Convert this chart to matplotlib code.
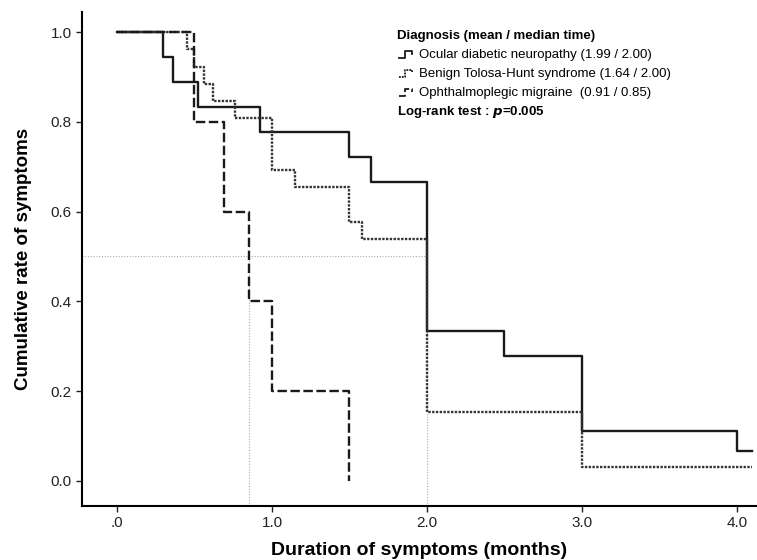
import matplotlib
matplotlib.use("Agg")
import matplotlib.pyplot as plt

plt.rcParams["font.family"] = ["Liberation Sans", "DejaVu Sans"]

# Kaplan-Meier style step data (time in months, cumulative rate)
t_ocular = [0, 0.30, 0.36, 0.52, 0.92, 1.50, 1.64, 2.00, 2.50, 3.00, 4.00, 4.10]
s_ocular = [1.0, 0.944, 0.889, 0.833, 0.778, 0.722, 0.667, 0.333, 0.278, 0.111, 0.067, 0.067]

t_tolosa = [0, 0.45, 0.50, 0.56, 0.62, 0.76, 1.00, 1.15, 1.50, 1.58, 2.00, 3.00, 4.10]
s_tolosa = [1.0, 0.962, 0.923, 0.885, 0.846, 0.808, 0.692, 0.654, 0.577, 0.538, 0.154, 0.03, 0.03]

t_migraine = [0, 0.50, 0.69, 0.85, 1.00, 1.50]
s_migraine = [1.0, 0.8, 0.6, 0.4, 0.2, 0.0]

medians = [0.85, 2.0]

labels = ["Ocular diabetic neuropathy (1.99 / 2.00)",
          "Benign Tolosa-Hunt syndrome (1.64 / 2.00)",
          "Ophthalmoplegic migraine  (0.91 / 0.85)"]
styles = ["-", (0, (1, 0.6)), (0, (4, 1.5))]

xticks = [0, 1, 2, 3, 4]
xticklabels = [".0", "1.0", "2.0", "3.0", "4.0"]
yticks = [0, 0.2, 0.4, 0.6, 0.8, 1.0]

fig = plt.figure(figsize=(7.57, 5.6), dpi=100)
ax = fig.add_axes([0.1083, 0.0964, 0.8917, 0.882])

xmin, xmax = -0.226, 4.13
ymin, ymax = -0.056, 1.0445

# median reference lines
ax.plot([xmin, medians[1]], [0.5, 0.5], color="#aaaaaa", lw=0.8, ls=(0, (1, 1.5)))
for m in medians:
    ax.plot([m, m], [ymin, 0.5], color="#aaaaaa", lw=0.8, ls=(0, (1, 1.5)))

ax.step(t_ocular, s_ocular, where="post", color="#1a1a1a", lw=1.7, ls=styles[0])
ax.step(t_tolosa, s_tolosa, where="post", color="#333333", lw=1.7, ls=styles[1])
ax.step(t_migraine, s_migraine, where="post", color="#1a1a1a", lw=1.7, ls=styles[2])

ax.set_xlim(xmin, xmax)
ax.set_ylim(ymin, ymax)
ax.set_xticks(xticks)
ax.set_xticklabels(xticklabels)
ax.set_yticks(yticks)
ax.set_yticklabels([f"{v:.1f}" for v in yticks])
ax.tick_params(labelsize=11, length=4, width=1, colors="#222222")
for sp in ["top", "right"]:
    ax.spines[sp].set_visible(False)
for sp in ["left", "bottom"]:
    ax.spines[sp].set_linewidth(1.5)

ax.set_xlabel("Duration of symptoms (months)", fontsize=14, fontweight="bold", labelpad=8)
ax.set_ylabel("Cumulative rate of symptoms", fontsize=13.5, fontweight="bold", labelpad=13)

# legend block
tx = 0.467
ty = 0.952
dy = 0.0385
ax.text(tx, ty, "Diagnosis (mean / median time)", transform=ax.transAxes,
        fontsize=9.5, fontweight="bold", va="center")
for i, (lab, st) in enumerate(zip(labels, styles)):
    yy = ty - dy * (i + 1)
    x0 = tx + 0.003
    xs = [x0, x0 + 0.008, x0 + 0.008, x0 + 0.019, x0 + 0.019]
    ys = [yy - 0.007, yy - 0.007, yy + 0.007, yy + 0.007, yy + 0.001]
    ax.plot(xs, ys, transform=ax.transAxes, color="#1a1a1a", lw=1.3, ls=st)
    ax.text(tx + 0.032, yy, lab, transform=ax.transAxes, fontsize=9.5, va="center")
ax.text(tx, ty - dy * 4, "Log-rank test : $\\boldsymbol{p}$=0.005", transform=ax.transAxes,
        fontsize=9.5, fontweight="bold", va="center")

fig.savefig("out.png", dpi=100)
